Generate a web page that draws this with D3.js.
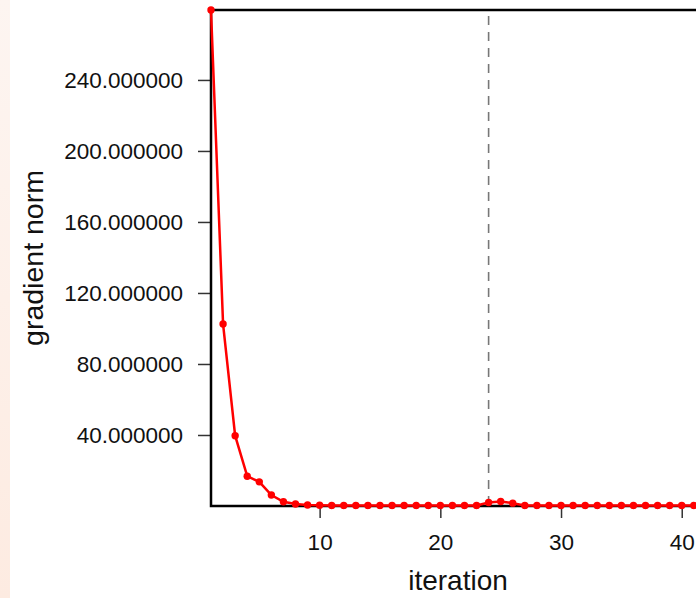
<!DOCTYPE html>
<html>
<head>
<meta charset="utf-8">
<script src="https://cdn.jsdelivr.net/npm/d3@7"></script>
<style>
  body { margin: 0; background: #fff; }
  svg { display: block; }
</style>
</head>
<body>
<div class="chart"></div>
<script>
// gradient norm per iteration
var iterations = d3.range(1, 46);
var gradNorm = [279.4, 102.5, 39.6, 16.8, 13.6, 6.2, 2.4, 1.1, 0.6, 0.4,
                0.3, 0.3, 0.3, 0.3, 0.3, 0.3, 0.3, 0.3, 0.3, 0.3,
                0.3, 0.3, 0.3, 2.0, 2.5, 1.6, 0.3, 0.3, 0.3, 0.3,
                0.3, 0.3, 0.3, 0.3, 0.3, 0.3, 0.3, 0.3, 0.3, 0.3,
                0.3, 0.3, 0.3, 0.3, 0.3];
var xTicks = [10, 20, 30, 40];
var yTicks = [40, 80, 120, 160, 200, 240];
var restartAt = [24];

var width = 696,
    height = 598,
    margin = {top: 10, left: 211, bottom: 92},
    unit = 12.07;

var svg = d3.select("div.chart").append("svg")
    .attr("width", width)
    .attr("height", height);

// pale strip at the left edge
var grad = svg.append("defs").append("linearGradient")
    .attr("id", "strip")
    .attr("x1", 0).attr("y1", 0).attr("x2", 0).attr("y2", 1);
grad.append("stop").attr("offset", "0%").attr("stop-color", "#fdf5f1");
grad.append("stop").attr("offset", "100%").attr("stop-color", "#fdebe1");

svg.append("rect")
    .attr("width", 10)
    .attr("height", height)
    .attr("fill", "url(#strip)");

var x = d3.scaleLinear()
    .domain([1, 45])
    .range([margin.left, margin.left + 44 * unit]);

var y = d3.scaleLinear()
    .domain([0, d3.max(gradNorm)])
    .range([height - margin.bottom, margin.top]);

var x0 = x(1), x1 = x(45), y0 = y(0), y1 = y(d3.max(gradNorm));

// axes
var yAxis = svg.append("g")
    .attr("transform", "translate(" + x0 + ",0)")
    .call(d3.axisLeft(y).tickValues(yTicks).tickFormat(d3.format(".6f"))
        .tickSize(13).tickPadding(15));

var xAxis = svg.append("g")
    .attr("transform", "translate(0," + y0 + ")")
    .call(d3.axisBottom(x).tickValues(xTicks).tickFormat(d3.format("d"))
        .tickSize(12).tickPadding(16));

svg.selectAll(".domain").remove();
svg.selectAll(".tick line")
    .attr("stroke", "#333")
    .attr("stroke-width", 1.5);
svg.selectAll(".tick text")
    .attr("fill", "#111")
    .style("font-family", "'Liberation Sans', Arial, sans-serif")
    .style("font-size", "22.5px");

// restart marker
svg.selectAll("line.restart")
    .data(restartAt)
    .enter().append("line")
    .attr("class", "restart")
    .attr("x1", function(d) { return x(d); })
    .attr("x2", function(d) { return x(d); })
    .attr("y1", y1 + 6)
    .attr("y2", y0)
    .attr("stroke", "#777")
    .attr("stroke-width", 1.6)
    .attr("stroke-dasharray", "9,7");

// plot box
svg.append("rect")
    .attr("x", x0)
    .attr("y", y1)
    .attr("width", x1 - x0)
    .attr("height", y0 - y1)
    .attr("fill", "none")
    .attr("stroke", "#000")
    .attr("stroke-width", 2.5);

var line = d3.line()
    .x(function(d, i) { return x(iterations[i]); })
    .y(function(d) { return y(d); });

svg.append("path")
    .datum(gradNorm)
    .attr("d", line)
    .attr("fill", "none")
    .attr("stroke", "#ff0000")
    .attr("stroke-width", 2.5);

svg.selectAll("circle.pt")
    .data(gradNorm)
    .enter().append("circle")
    .attr("class", "pt")
    .attr("cx", function(d, i) { return x(iterations[i]); })
    .attr("cy", function(d) { return y(d); })
    .attr("r", 3.7)
    .attr("fill", "#ff0000");

// axis titles
svg.append("text")
    .attr("x", 458)
    .attr("y", 590)
    .style("text-anchor", "middle")
    .style("font-family", "'Liberation Sans', Arial, sans-serif")
    .style("font-size", "28px")
    .attr("fill", "#111")
    .text("iteration");

svg.append("text")
    .attr("transform", "translate(43," + (y0 + y1) / 2 + ") rotate(-90)")
    .style("text-anchor", "middle")
    .style("font-family", "'Liberation Sans', Arial, sans-serif")
    .style("font-size", "28.5px")
    .attr("fill", "#111")
    .text("gradient norm");
</script>
</body>
</html>
